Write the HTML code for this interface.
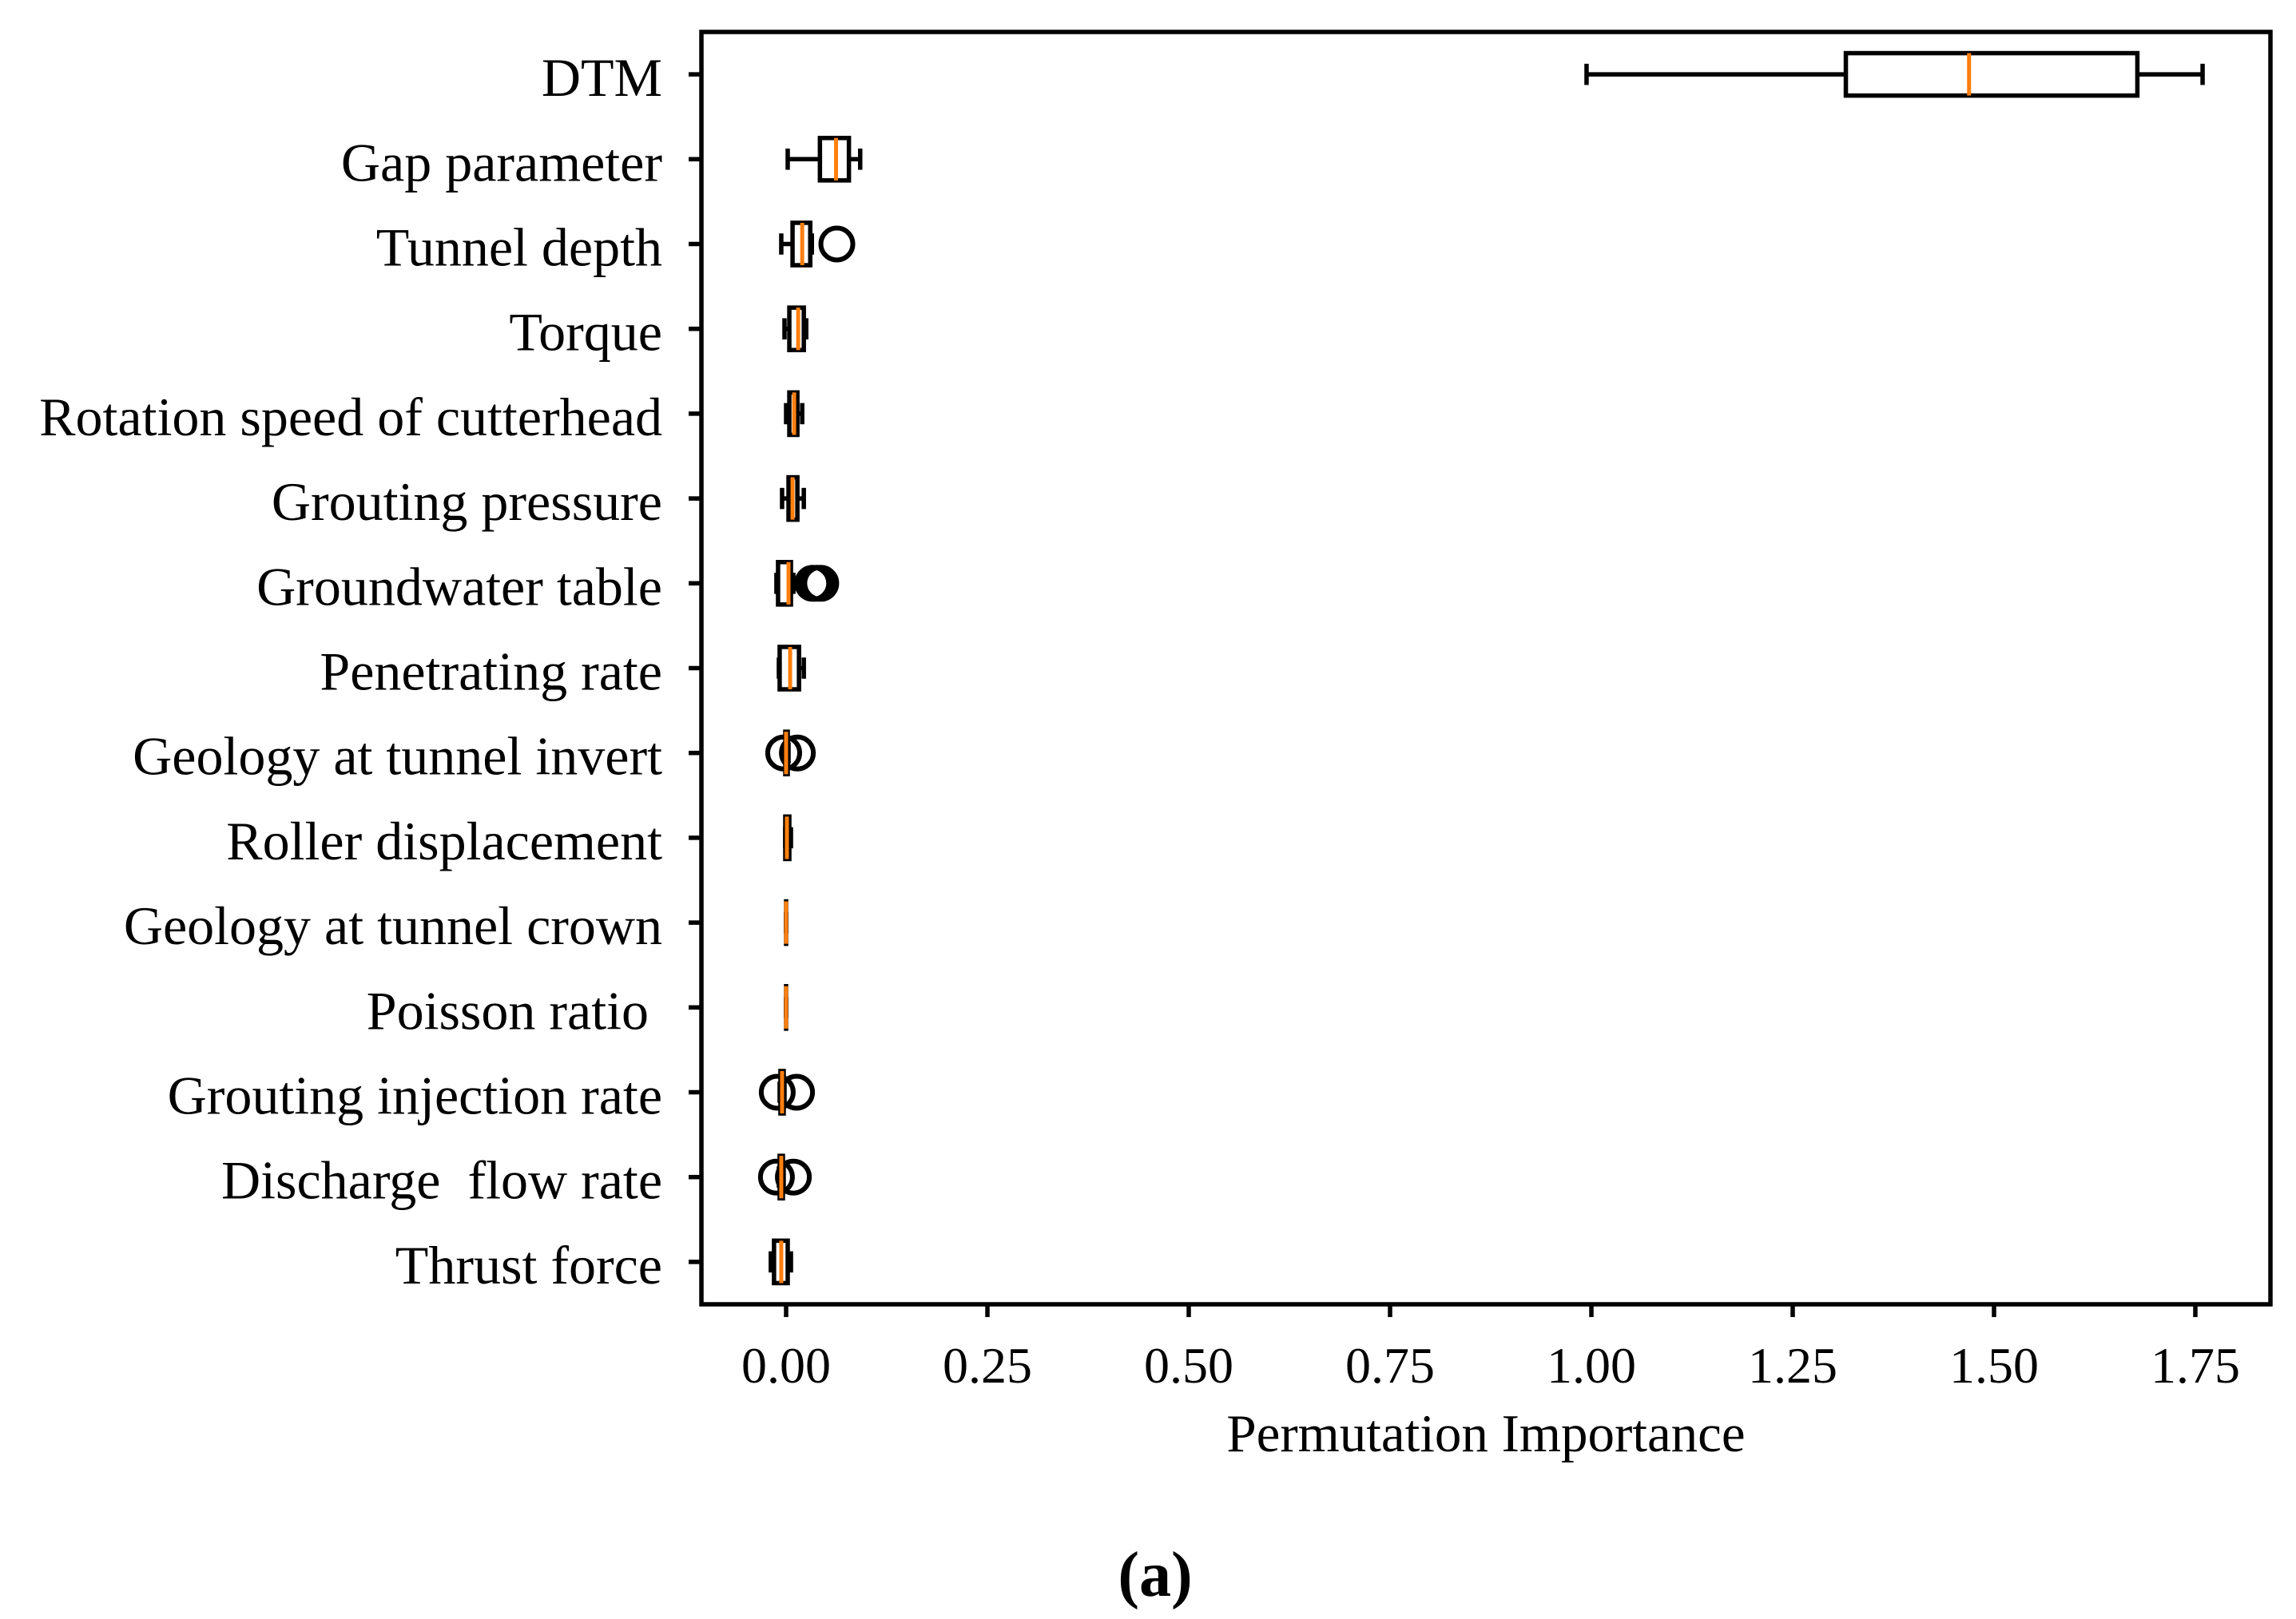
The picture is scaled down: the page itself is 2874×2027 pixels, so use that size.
<!DOCTYPE html>
<html><head><meta charset="utf-8"><style>
html,body{margin:0;padding:0;background:#fff;}
svg{display:block;font-family:"Liberation Serif",serif;}
</style></head><body>
<svg id="chart" width="2874" height="2027" viewBox="0 0 2874 2027" xmlns="http://www.w3.org/2000/svg">
<rect width="2874" height="2027" fill="#fff"/>
<g id="plot"></g>
<text x="1860" y="1817" font-size="67" text-anchor="middle">Permutation Importance</text>
<text x="1446" y="1998" font-size="80" font-weight="bold" text-anchor="middle">(a)</text>
</svg>
<script>
const categories = ["DTM","Gap parameter","Tunnel depth","Torque","Rotation speed of cutterhead","Grouting pressure","Groundwater table","Penetrating rate","Geology at tunnel invert","Roller displacement","Geology at tunnel crown","Poisson ratio\u00a0","Grouting injection rate","Discharge\u00a0 flow rate","Thrust force"];
const whiskerLow = [0.994,0.002,-0.006,-0.002,0.000,-0.005,-0.012,-0.009,-0.002,-0.001,0,0,-0.008,-0.009,-0.019];
const q1Values =   [1.316,0.042,0.008,0.004,0.004,0.003,-0.010,-0.008,-0.001,-0.001,0,0,-0.007,-0.008,-0.015];
const medians =    [1.469,0.062,0.020,0.015,0.010,0.008,0.003,0.005,0.000,0.001,0,0,-0.005,-0.006,-0.006];
const q3Values =   [1.678,0.078,0.030,0.022,0.014,0.014,0.006,0.016,0.002,0.004,0,0,-0.003,-0.004,0.002];
const whiskerHigh =[1.759,0.092,0.032,0.025,0.020,0.022,0.009,0.022,0.003,0.006,0,0,-0.002,-0.003,0.006];
const outliers = [[],[],[0.063],[],[],[],[0.033,0.038,0.043],[],[-0.003,0.014],[],[],[],[-0.011,0.013],[-0.012,0.009],[]];
const xTicks = [0,0.25,0.5,0.75,1.0,1.25,1.5,1.75];
const xTickLabels = ["0.00","0.25","0.50","0.75","1.00","1.25","1.50","1.75"];

const L=878,R=2842,T=40,B=1633;
const x0=984, pxPerUnit=1008;
function xs(v){return x0+v*pxPerUnit;}
function ys(i){return T+(i+0.5)*(B-T)/categories.length;}
const unit=(B-T)/categories.length;
const NS="http://www.w3.org/2000/svg";
const g=document.getElementById('plot');
const SW=5.5;
function el(tag,attrs,parent){const e=document.createElementNS(NS,tag);for(const k in attrs)e.setAttribute(k,attrs[k]);(parent||g).appendChild(e);return e;}

categories.forEach((c,i)=>{
  const y=ys(i);
  const grp=el('g',{});
  
  
  const bh=unit*0.5, ch=unit*0.25;
  const lo=xs(whiskerLow[i]),a=xs(q1Values[i]),m=xs(medians[i]),b=xs(q3Values[i]),hi=xs(whiskerHigh[i]);
  const st={stroke:'#000','stroke-width':SW,fill:'none'};
  el('line',Object.assign({x1:lo,x2:a,y1:y,y2:y},st),grp);
  el('line',Object.assign({x1:b,x2:hi,y1:y,y2:y},st),grp);
  el('line',Object.assign({x1:lo,x2:lo,y1:y-ch/2,y2:y+ch/2},st),grp);
  el('line',Object.assign({x1:hi,x2:hi,y1:y-ch/2,y2:y+ch/2},st),grp);
  el('rect',Object.assign({x:a,y:y-bh/2,width:Math.max(b-a,0.01),height:bh},st),grp);
  outliers[i].forEach(v=>{
    const o=el('circle',{cx:xs(v),cy:y,r:20,fill:'none',stroke:'#000','stroke-width':6},grp);
    
    
  });
  const md=el('line',{x1:m,x2:m,y1:y-bh/2,y2:y+bh/2,stroke:'#ff7f0e','stroke-width':5},grp);
  
  
  el('line',{x1:L-16,x2:L,y1:y,y2:y,stroke:'#000','stroke-width':SW});
  const t=el('text',{x:829,y:y+27,'font-size':68,'text-anchor':'end'});
  t.textContent=c;
  
  
});
xTicks.forEach((v,k)=>{
  const x=xs(v);
  el('line',{x1:x,x2:x,y1:B,y2:B+16,stroke:'#000','stroke-width':SW});
  const t=el('text',{x:x,y:1731,'font-size':64,'text-anchor':'middle'});
  t.textContent=xTickLabels[k];
  
  
});
const fr=el('rect',{x:L,y:T,width:R-L,height:B-T,fill:'none',stroke:'#000','stroke-width':SW});


</script>
</body></html>
